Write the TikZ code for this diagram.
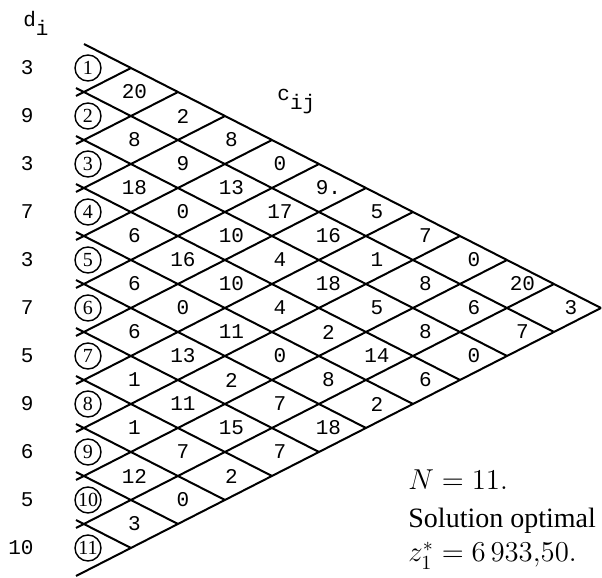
\documentclass[tikz,border=0pt]{standalone}
\usepackage{fontspec}
\setmainfont{Liberation Serif}
\setmonofont{Liberation Mono}

\begin{document}
\begin{tikzpicture}[
      x=0.5pt, y=-0.5pt,
      every node/.style={inner sep=0pt},
      edge/.style={line width=1pt},
      cost/.style={font=\ttfamily\fontsize{10.5}{12}\selectfont},
      dem/.style={font=\ttfamily\fontsize{10.5}{12}\selectfont, anchor=east},
      per/.style={circle, draw, line width=0.7pt, minimum size=13pt, font=\fontsize{10}{11}\selectfont},
      head/.style={font=\ttfamily\fontsize{10.5}{12}\selectfont, anchor=base west},
      note/.style={font=\fontsize{14}{16}\selectfont, anchor=base west}
    ]
    \useasboundingbox (0,0) rectangle (602,578);

    \foreach \k in {0,...,11}{
      \coordinate (P\k) at (84,44+48*\k);
      \coordinate (D\k) at (76,40+48*\k);
      \coordinate (U\k) at (76,48+48*\k);
      \coordinate (T\k) at (84+47*\k,44+24*\k);
      \coordinate (B\k) at (601-47*\k,308+24*\k);
    }

    \draw[edge] (P0) -- (B0);
    \draw[edge] (U11) -- (T11);
    \foreach \k in {1,...,10}{
      \draw[edge] (D\k) -- (B\k);
      \draw[edge] (U\k) -- (T\k);
    }

    \node[head] (dlab) at (23,26) {d\raisebox{-5pt}{i}};
    \node[head] (clab) at (277,100) {c\raisebox{-5pt}{ij}};

    \foreach \i/\d in {1/3,2/9,3/3,4/7,5/3,6/7,7/5,8/9,9/6,10/5,11/10}{
      \node[dem] (d\i) at (34,20+48*\i) {\d};
      \node[per] (n\i) at (88,20+48*\i) {\i};
    }

    \foreach \k/\vals in {
      1/{20,8,18,6,6,6,1,1,12,3},
      2/{2,9,0,16,0,13,11,7,0},
      3/{8,13,10,10,11,2,15,2},
      4/{0,17,4,4,0,7,7},
      5/{9.,16,18,2,8,18},
      6/{5,1,5,14,2},
      7/{7,8,8,6},
      8/{0,6,0},
      9/{20,7},
      10/{3}
    }{
      \foreach \v [count=\i] in \vals
        \node[cost] (c\k-\i) at (86+48.5*\k,20+48*\i+24*\k) {\v};
    }

    \node[note] (nval) at (408,490) {$N=11.$};
    \node[note] (sol) at (408,528) {Solution optimal};
    \node[note] (zval) at (408,562) {$z_1^*=6\,933{,}50.$};
\end{tikzpicture}
\end{document}
